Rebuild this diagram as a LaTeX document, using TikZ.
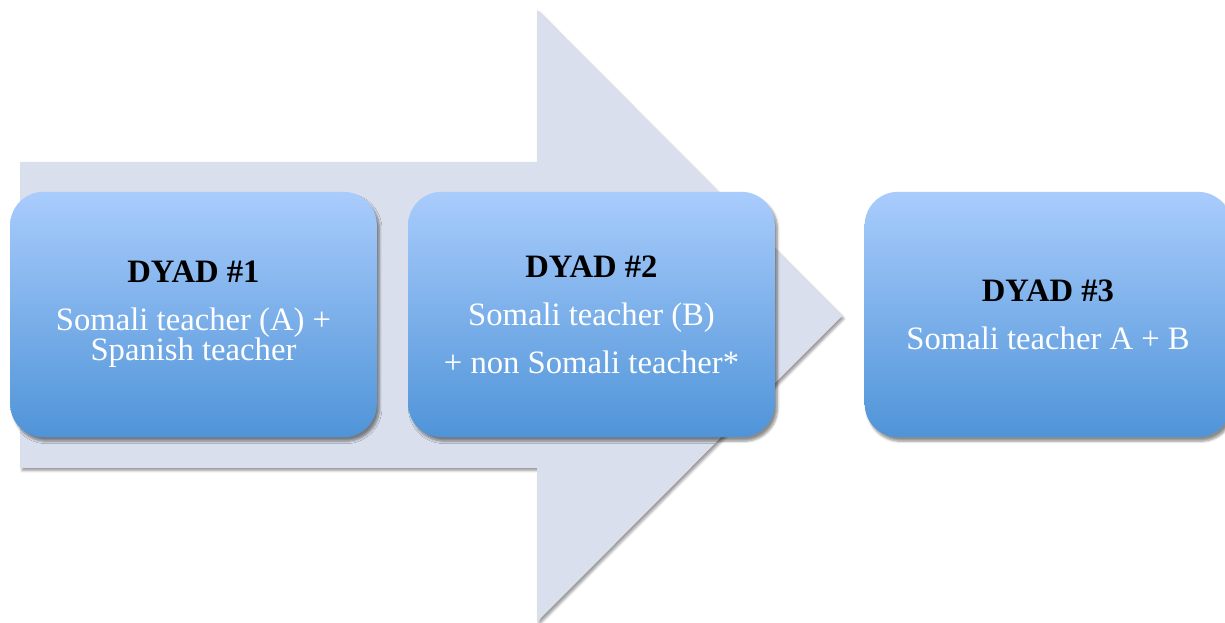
\documentclass[tikz,border=0pt]{standalone}
\usepackage{fontspec}
\setmainfont{Liberation Serif}
\usetikzlibrary{shadows.blur}
\definecolor{arrowgray}{RGB}{217,223,236}
\definecolor{boxtop}{RGB}{169,204,252}
\definecolor{boxbottom}{RGB}{79,148,216}
\tikzset{
  dyad/.style={rectangle, rounded corners=25pt, minimum width=275pt, minimum height=184pt,
    top color=boxtop, bottom color=boxbottom, text=white, align=center,
    font=\fontsize{24.5}{22.5}\selectfont,
    blur shadow={shadow xshift=2pt, shadow yshift=-3pt, shadow blur steps=6, shadow opacity=45}},
  bigarrow/.style={fill=arrowgray,
    blur shadow={shadow xshift=1.5pt, shadow yshift=-2pt, shadow blur steps=4, shadow opacity=40}}
}

\begin{document}
\begin{tikzpicture}[x=0.75pt, y=-0.75pt]
    \useasboundingbox (0,0) rectangle (1225,623);
    \fill[bigarrow] (20,162) -- (537,162) -- (537,10) -- (842,316) -- (537,622) -- (537,468) -- (20,468) -- cycle;
    \node[dyad] (dyad1) at (193.5,314.5) {{\color{black}\bfseries DYAD \#1}\\[13.5pt] Somali teacher (A) +\\ Spanish teacher};
    \node[dyad] (dyad2) at (591.5,314.5) {{\color{black}\bfseries DYAD \#2}\\[13.5pt] Somali teacher (B)\\[13.5pt] + non Somali teacher*};
    \node[dyad] (dyad3) at (1048,314.5) {{\color{black}\bfseries DYAD \#3}\\[13.5pt] Somali teacher A + B};
\end{tikzpicture}
\end{document}
